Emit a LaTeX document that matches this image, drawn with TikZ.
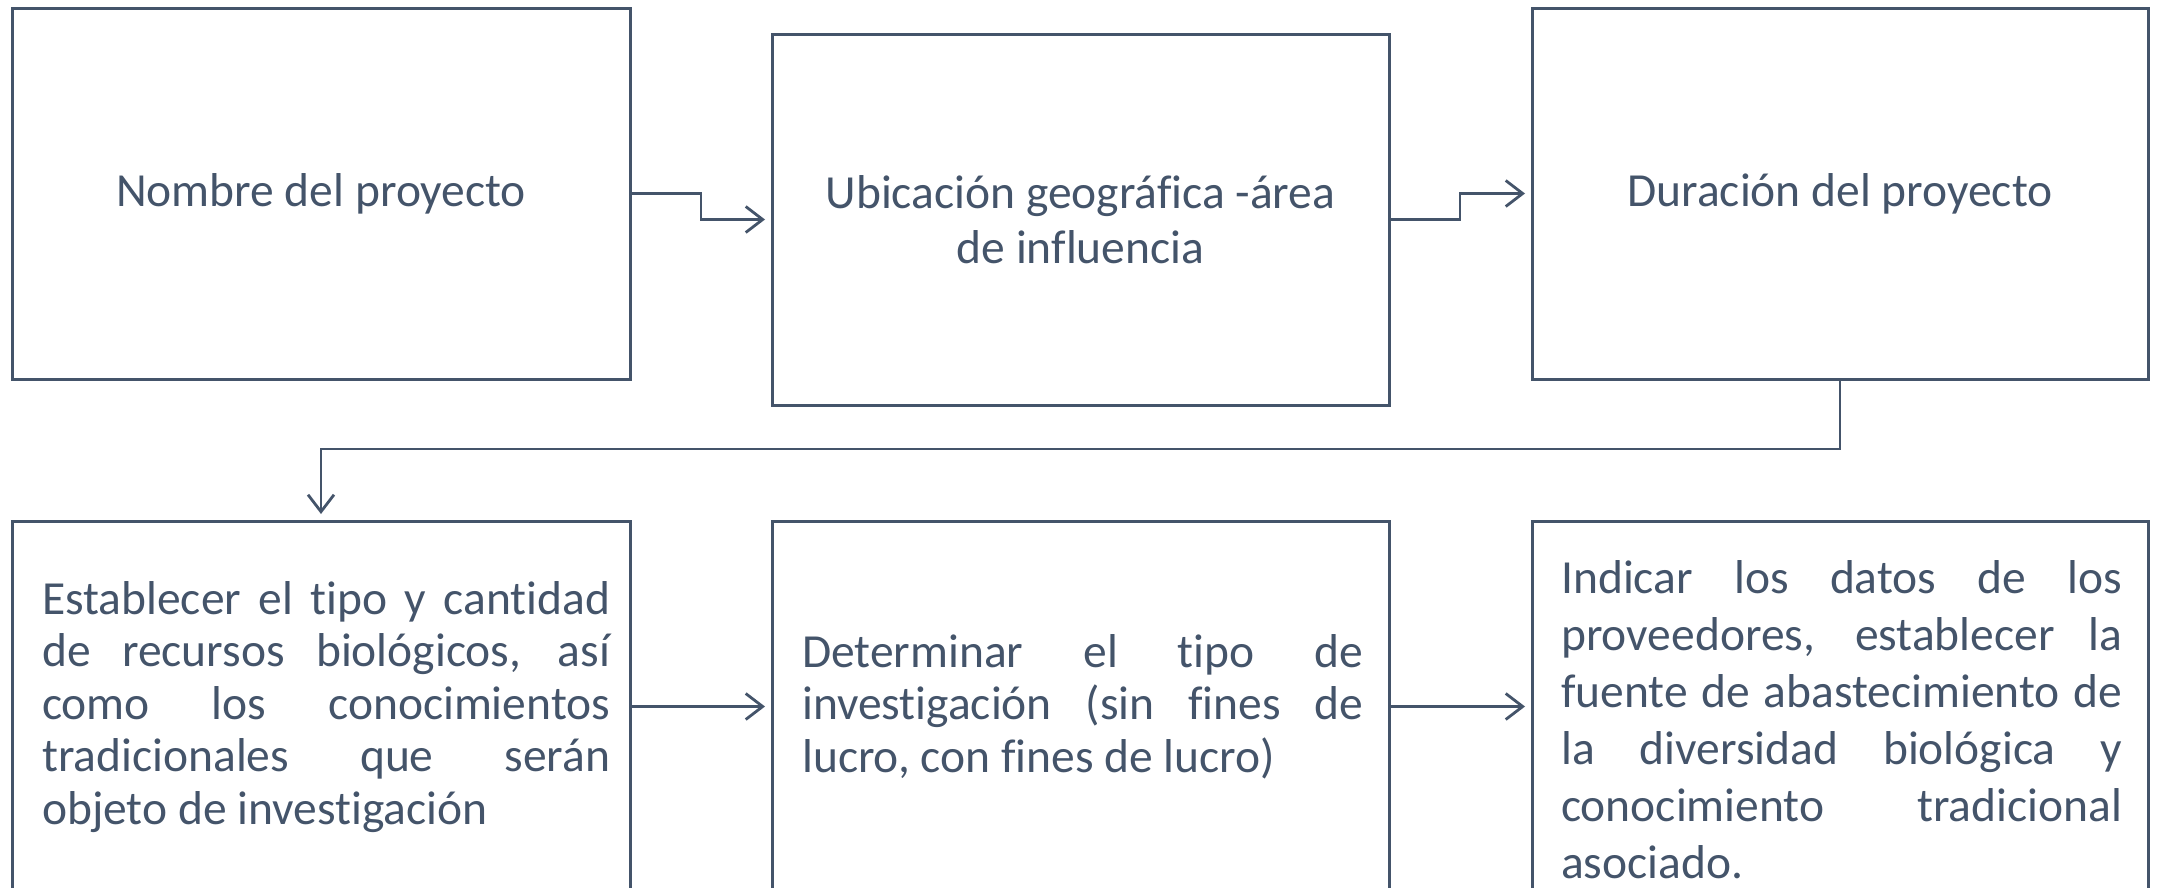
\documentclass[tikz,border=0pt]{standalone}
\usepackage{fontspec}
\setmainfont{Carlito}[Ligatures={NoCommon}]
\usetikzlibrary{arrows.meta}
\definecolor{ink}{HTML}{44546A}
\tikzset{
  box/.style={draw=ink, line width=3pt, inner sep=0pt, outer sep=0pt, anchor=north west, text=ink, align=center},
  arr/.style={draw=ink, line width=2.8pt, -{Straight Barb[length=17pt,width=26pt]}, shorten >=7pt},
  txt/.style={anchor=base west, inner sep=0pt, text=ink}
}
\begin{document}
\begin{tikzpicture}[x=1pt,y=-1pt]
\useasboundingbox (0,0) rectangle (2159,887);
\clip (0,0) rectangle (2159,887);
\fontsize{47.5}{55}\selectfont
% row 1
\node[box, minimum width=618pt, minimum height=371pt] (b1) at (12,8) {Nombre del proyecto};
\node[box, minimum width=617pt, minimum height=371pt] (b2) at (772,34) {Ubicación geográfica -área\\de influencia};
\node[box, minimum width=616pt, minimum height=371pt] (b3) at (1532,8) {Duración del proyecto};
% row 2
\node[box, minimum width=618pt, minimum height=371pt] (b4) at (12,521) {};
\node[box, minimum width=617pt, minimum height=371pt] (b5) at (772,521) {};
\node[box, minimum width=616pt, minimum height=371pt] (b6) at (1532,521) {};
\node[txt] (t4) at (42,614) {\parbox[t]{568pt}{\fontsize{47.5}{52.5}\selectfont Establecer el tipo y cantidad\linebreak de recursos biológicos, así\linebreak como los conocimientos\linebreak tradicionales que serán\linebreak objeto de investigación}};
\node[txt] (t5) at (802,667) {\parbox[t]{561pt}{\fontsize{47.5}{52.5}\selectfont Determinar el tipo de\linebreak investigación (sin fines de\linebreak lucro, con fines de lucro)}};
\node[txt] (t6) at (1561,593) {\parbox[t]{561pt}{\fontsize{47.5}{57}\selectfont Indicar los datos de los\linebreak proveedores, establecer la\linebreak fuente de abastecimiento de\linebreak la diversidad biológica y\linebreak conocimiento tradicional\linebreak asociado.}};
% connectors
\draw[arr] (b1.east) -- ++(71,0) |- (b2.west);
\draw[arr] (b2.east) -- ++(71,0) |- (b3.west);
\draw[arr] (b3.south) -- ++(0,70) -| (b4.north);
\draw[arr] (b4.east) -- (b5.west);
\draw[arr] (b5.east) -- (b6.west);
\end{tikzpicture}
\end{document}
